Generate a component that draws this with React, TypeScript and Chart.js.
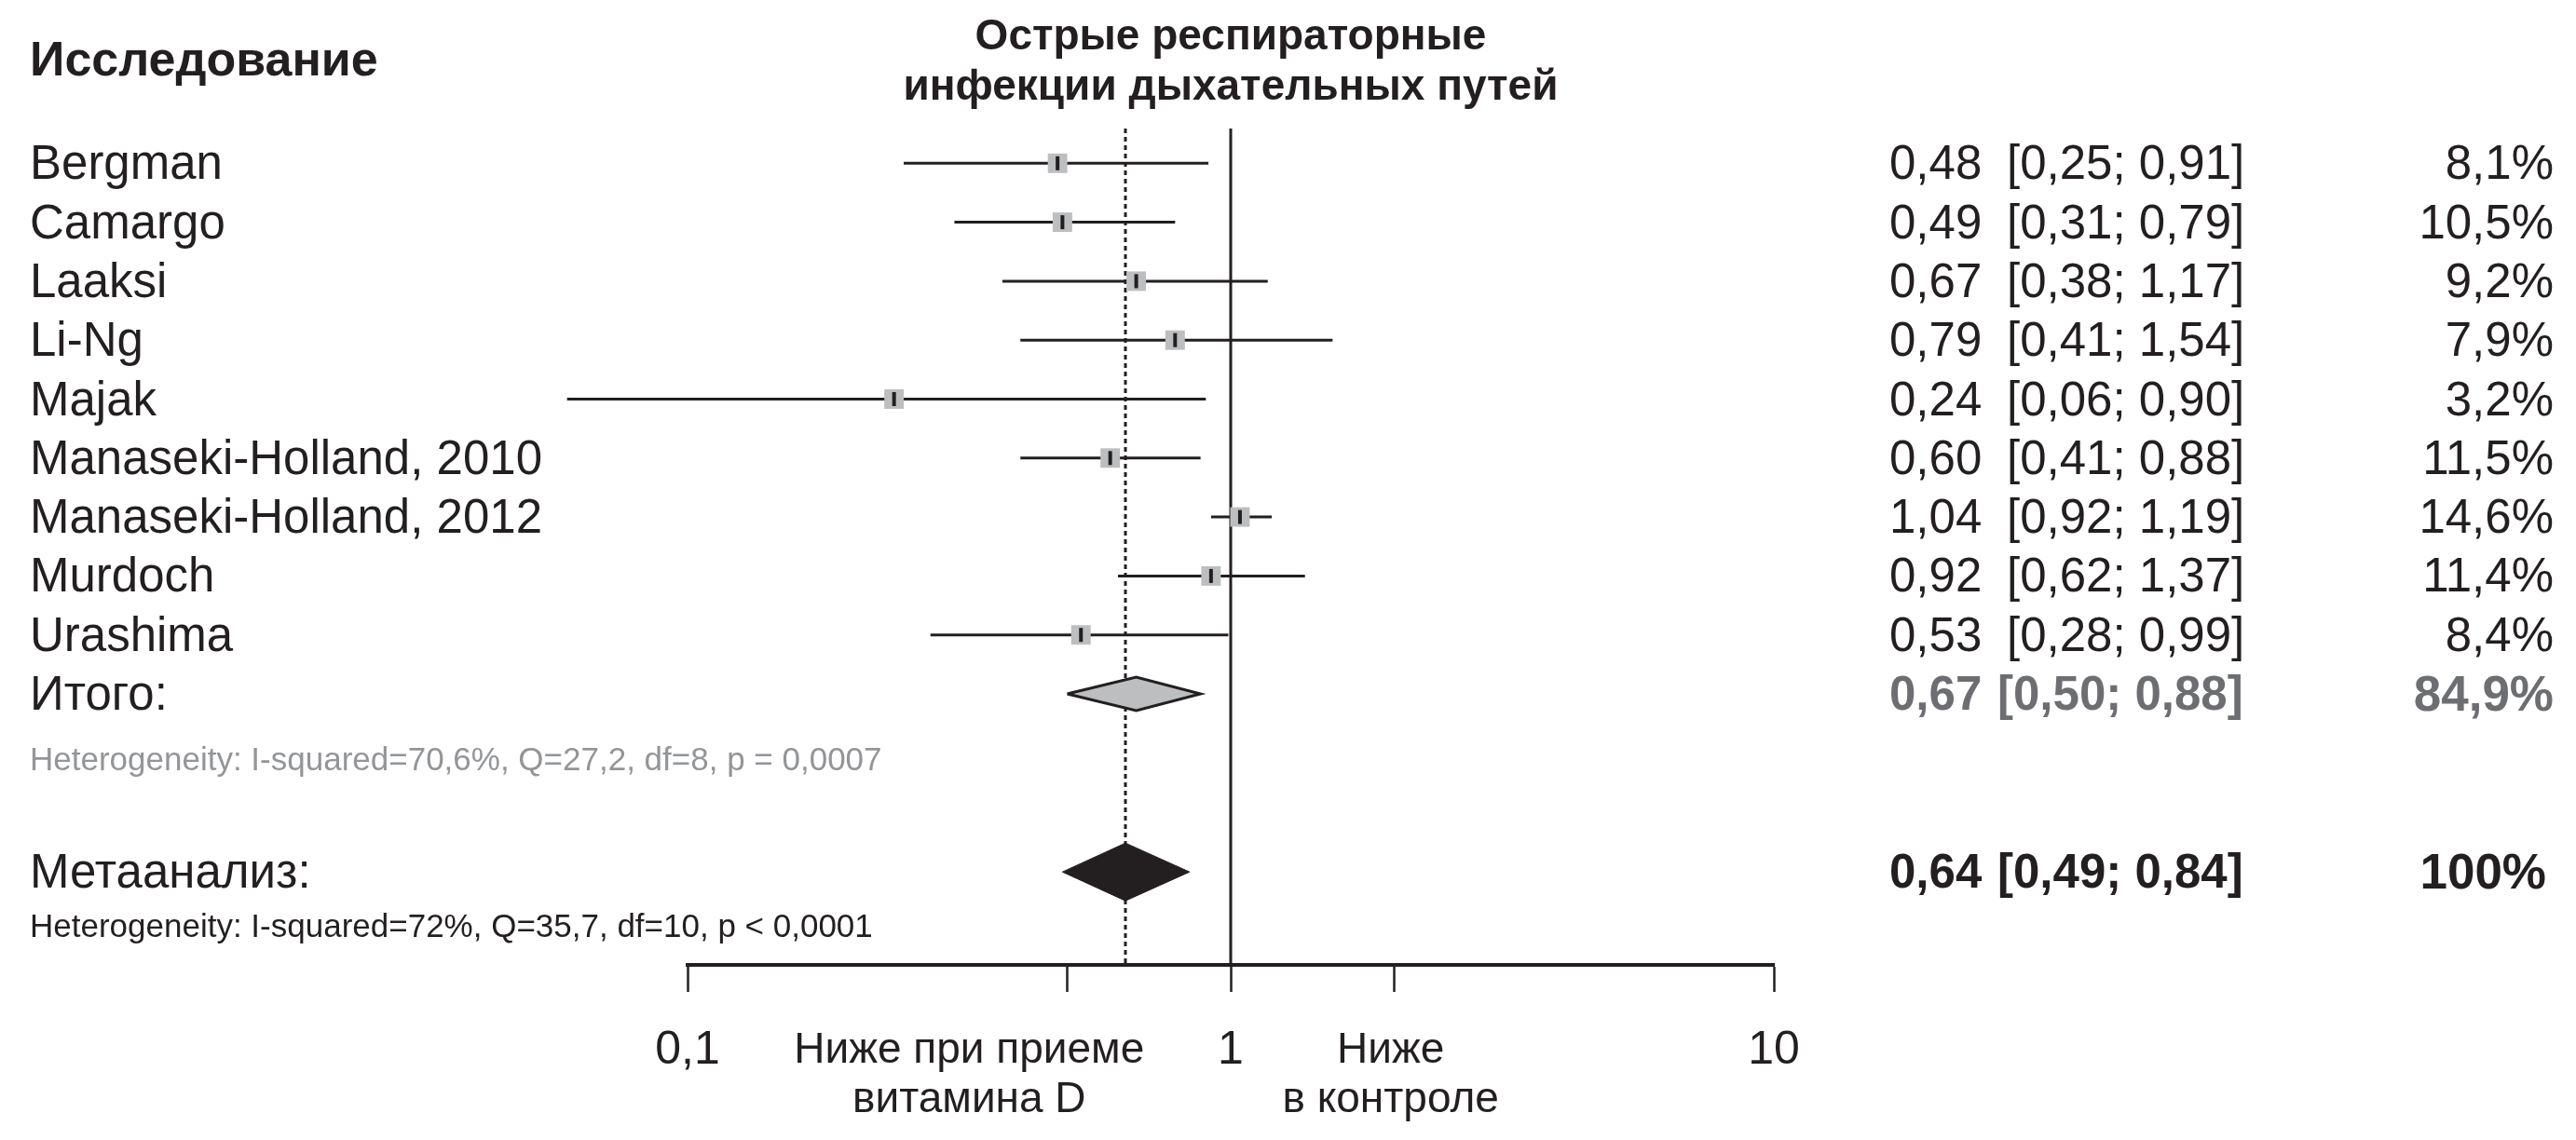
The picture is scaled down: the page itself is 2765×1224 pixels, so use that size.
import React, { useEffect, useRef } from 'react';
import { Chart, registerables } from 'chart.js';

Chart.register(...registerables);

// ---------------- data ----------------
const studyNames = [
  'Bergman',
  'Camargo',
  'Laaksi',
  'Li-Ng',
  'Majak',
  'Manaseki-Holland, 2010',
  'Manaseki-Holland, 2012',
  'Murdoch',
  'Urashima',
];
const studyRR = [0.48, 0.49, 0.67, 0.79, 0.24, 0.6, 1.04, 0.92, 0.53];
const studyLower = [0.25, 0.31, 0.38, 0.41, 0.06, 0.41, 0.92, 0.62, 0.28];
const studyUpper = [0.91, 0.79, 1.17, 1.54, 0.9, 0.88, 1.19, 1.37, 0.99];
const studyWeight = [8.1, 10.5, 9.2, 7.9, 3.2, 11.5, 14.6, 11.4, 8.4];

const subtotalLabel = 'Итого:';
const subtotalRR = 0.67;
const subtotalLower = 0.5;
const subtotalUpper = 0.88;
const subtotalWeight = 84.9;
const subtotalHet = 'Heterogeneity: I-squared=70,6%, Q=27,2, df=8, p = 0,0007';

const overallLabel = 'Метаанализ:';
const overallRR = 0.64;
const overallLower = 0.49;
const overallUpper = 0.84;
const overallWeight = 100;
const overallHet = 'Heterogeneity: I-squared=72%, Q=35,7, df=10, p < 0,0001';

const xTickValues = [0.1, 0.5, 1, 2, 10];
const xTickLabels = ['0,1', '', '1', '', '10'];
const columnHeader = 'Исследование';
const chartTitle = ['Острые респираторные', 'инфекции дыхательных путей'];
const leftNote = ['Ниже при приеме', 'витамина D'];
const rightNote = ['Ниже', 'в контроле'];

// ---------------- layout / style ----------------
const W = 2765;
const H = 1224;
const PLOT_LEFT = 738;
const PLOT_RIGHT = 1904;
const PLOT_TOP = 138;
const AXIS_Y = 1036;
const ROW_PX = 63.3;
const FIRST_ROW_Y = 175.3;
const Y_MIN = (PLOT_TOP - FIRST_ROW_Y) / ROW_PX;
const Y_MAX = (AXIS_Y - FIRST_ROW_Y) / ROW_PX;
const ROW_SUBTOTAL = 9;
const ROW_HET1 = 10.1;
const ROW_OVERALL = 12.02;
const ROW_HET2 = 12.92;
const NOTE_LEFT_AT = 0.33;
const NOTE_RIGHT_AT = 1.97;
const TEXT_DY = 3;

const INK = '#231f20';
const MARK_GRAY = '#bcbec0';
const SUB_GRAY = '#6d6e71';
const HET_GRAY = '#939598';
const FONT = "'Liberation Sans', Arial, Helvetica, sans-serif";

const LABEL_X = 32;
const EST_X = 2028;
const CI_X = 2154;
const WEIGHT_RIGHT = 2741;

const fmt = (v: number) => v.toFixed(2).replace('.', ',');
const fmtPct = (v: number) =>
  (Number.isInteger(v) ? String(v) : v.toFixed(1).replace('.', ',')) + '%';

const diamond = (lo: number, est: number, hi: number, row: number, half: number) => [
  { x: lo, y: row },
  { x: est, y: row - half },
  { x: hi, y: row },
  { x: est, y: row + half },
  { x: lo, y: row },
];

const textPlugin = {
  id: 'forestText',
  afterDraw(chart: any) {
    const { ctx } = chart;
    const x = chart.scales.x;
    const y = chart.scales.y;
    ctx.save();
    ctx.textBaseline = 'middle';
    ctx.fillStyle = INK;

    // header
    ctx.textAlign = 'left';
    ctx.font = `bold 52px ${FONT}`;
    ctx.fillText(columnHeader, LABEL_X, 67);

    // title
    ctx.textAlign = 'center';
    ctx.font = `bold 46px ${FONT}`;
    const tx = x.getPixelForValue(1);
    ctx.fillText(chartTitle[0], tx, 40);
    ctx.fillText(chartTitle[1], tx, 94);

    // study rows
    studyNames.forEach((name, i) => {
      const py = y.getPixelForValue(i) + TEXT_DY;
      ctx.font = `51px ${FONT}`;
      ctx.fillStyle = INK;
      ctx.textAlign = 'left';
      ctx.fillText(name, LABEL_X, py);
      ctx.fillText(fmt(studyRR[i]), EST_X, py);
      ctx.fillText(`[${fmt(studyLower[i])}; ${fmt(studyUpper[i])}]`, CI_X, py);
      ctx.textAlign = 'right';
      ctx.fillText(fmtPct(studyWeight[i]), WEIGHT_RIGHT, py);
    });

    // subtotal
    let py = y.getPixelForValue(ROW_SUBTOTAL) + TEXT_DY;
    ctx.textAlign = 'left';
    ctx.font = `51px ${FONT}`;
    ctx.fillStyle = INK;
    ctx.fillText(subtotalLabel, LABEL_X, py);
    ctx.font = `bold 51px ${FONT}`;
    ctx.fillStyle = SUB_GRAY;
    ctx.fillText(fmt(subtotalRR), EST_X, py);
    ctx.fillText(`[${fmt(subtotalLower)}; ${fmt(subtotalUpper)}]`, CI_X - 10, py);
    ctx.textAlign = 'right';
    ctx.font = `bold 53px ${FONT}`;
    ctx.fillText(fmtPct(subtotalWeight), WEIGHT_RIGHT, py);

    py = y.getPixelForValue(ROW_HET1) + TEXT_DY;
    ctx.textAlign = 'left';
    ctx.font = `35px ${FONT}`;
    ctx.fillStyle = HET_GRAY;
    ctx.fillText(subtotalHet, LABEL_X, py);

    // overall
    py = y.getPixelForValue(ROW_OVERALL) + TEXT_DY;
    ctx.font = `51px ${FONT}`;
    ctx.fillStyle = INK;
    ctx.fillText(overallLabel, LABEL_X, py);
    ctx.font = `bold 51px ${FONT}`;
    ctx.fillText(fmt(overallRR), EST_X, py);
    ctx.fillText(`[${fmt(overallLower)}; ${fmt(overallUpper)}]`, CI_X - 10, py);
    ctx.textAlign = 'right';
    ctx.font = `bold 53px ${FONT}`;
    ctx.fillText(fmtPct(overallWeight), WEIGHT_RIGHT - 8, py);

    py = y.getPixelForValue(ROW_HET2) + TEXT_DY;
    ctx.textAlign = 'left';
    ctx.font = `35px ${FONT}`;
    ctx.fillStyle = INK;
    ctx.fillText(overallHet, LABEL_X, py);

    // axis notes
    ctx.textAlign = 'center';
    ctx.font = `46px ${FONT}`;
    ctx.fillStyle = INK;
    const lx = x.getPixelForValue(NOTE_LEFT_AT);
    const rx = x.getPixelForValue(NOTE_RIGHT_AT);
    ctx.fillText(leftNote[0], lx, 1128);
    ctx.fillText(leftNote[1], lx, 1181);
    ctx.fillText(rightNote[0], rx, 1128);
    ctx.fillText(rightNote[1], rx, 1181);

    ctx.restore();
  },
};

export default function App() {
  const canvasRef = useRef<HTMLCanvasElement>(null);

  useEffect(() => {
    const canvas = canvasRef.current;
    if (!canvas) return;

    const lineDs = (label: string, data: any[], extra: any = {}) => ({
      label,
      data,
      showLine: true,
      borderColor: INK,
      borderWidth: 3,
      pointRadius: 0,
      pointHoverRadius: 0,
      fill: false,
      clip: false,
      ...extra,
    });

    const datasets: any[] = [
      lineDs('no effect', [
        { x: 1, y: Y_MIN },
        { x: 1, y: Y_MAX },
      ], { order: 10 }),
      lineDs('overall estimate', [
        { x: overallRR, y: Y_MIN },
        { x: overallRR, y: Y_MAX },
      ], { order: 9, borderDash: [5, 4] }),
      ...studyNames.map((name, i) =>
        lineDs(name + ' CI', [
          { x: studyLower[i], y: i },
          { x: studyUpper[i], y: i },
        ], { order: 8 })
      ),
      lineDs('subtotal', diamond(subtotalLower, subtotalRR, subtotalUpper, ROW_SUBTOTAL, 0.285), {
        order: 6,
        fill: 'shape',
        backgroundColor: MARK_GRAY,
        borderWidth: 3,
        borderJoinStyle: 'miter',
      }),
      lineDs('overall', diamond(overallLower, overallRR, overallUpper, ROW_OVERALL, 0.49), {
        order: 6,
        fill: 'shape',
        backgroundColor: INK,
        borderWidth: 1,
        borderJoinStyle: 'miter',
      }),
      {
        label: 'estimates',
        data: studyRR.map((v, i) => ({ x: v, y: i })),
        pointStyle: 'rect',
        pointRadius: 14.8,
        pointHoverRadius: 14.8,
        backgroundColor: MARK_GRAY,
        borderWidth: 0,
        order: 4,
      },
      {
        label: 'estimate marks',
        data: studyRR.map((v, i) => ({ x: v, y: i })),
        pointStyle: 'line',
        rotation: 90,
        pointRadius: 7.5,
        pointHoverRadius: 7.5,
        borderColor: INK,
        borderWidth: 4,
        order: 2,
      },
    ];

    const chart = new Chart(canvas, {
      type: 'scatter',
      data: { datasets },
      options: {
        animation: false,
        responsive: false,
        maintainAspectRatio: false,
        devicePixelRatio: 1,
        events: [],
        layout: {
          padding: { left: PLOT_LEFT, right: W - PLOT_RIGHT, top: PLOT_TOP, bottom: 0 },
        },
        plugins: {
          legend: { display: false },
          tooltip: { enabled: false },
          title: { display: false },
        },
        scales: {
          x: {
            type: 'logarithmic',
            position: 'bottom',
            min: 0.1,
            max: 10,
            afterBuildTicks: (scale: any) => {
              scale.ticks = xTickValues.map((v) => ({ value: v }));
            },
            afterFit: (scale: any) => {
              scale.height = H - AXIS_Y;
            },
            ticks: {
              autoSkip: false,
              maxRotation: 0,
              minRotation: 0,
              padding: 33,
              color: INK,
              font: { family: FONT, size: 50 },
              callback: (_v: any, i: number) => xTickLabels[i],
            },
            grid: {
              drawOnChartArea: false,
              drawTicks: true,
              tickLength: 29,
              tickWidth: 2.5,
              color: INK,
            },
            border: { display: true, width: 4, color: INK },
          },
          y: {
            type: 'linear',
            min: Y_MIN,
            max: Y_MAX,
            reverse: true,
            display: false,
          },
        },
      },
      plugins: [textPlugin],
    } as any);

    return () => chart.destroy();
  }, []);

  return (
    <div style={{ position: 'absolute', left: 0, top: 0, width: W, height: H, background: '#ffffff' }}>
      <canvas ref={canvasRef} width={W} height={H} style={{ display: 'block', width: W, height: H }} />
    </div>
  );
}
